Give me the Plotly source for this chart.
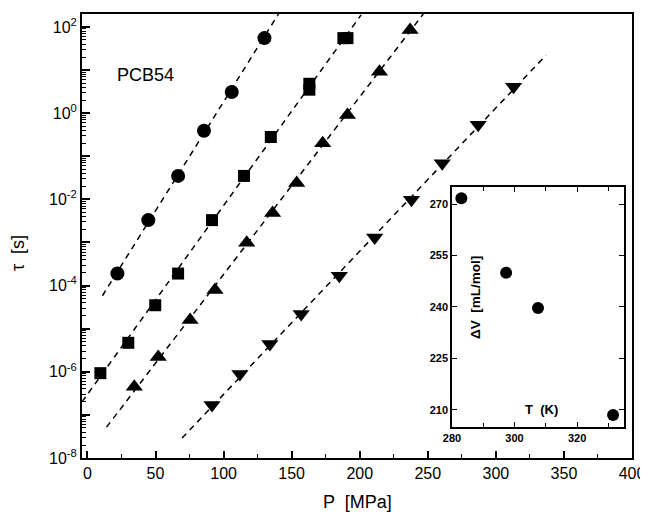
import plotly.graph_objects as go

# ---- data ----
P_circ = [22, 44.7, 66.6, 85.6, 106, 130]
tau_circ = [1.9e-4, 3.3e-3, 3.5e-2, 0.39, 3.1, 55]

P_sq = [9.5, 30, 49.8, 66.6, 91.5, 115, 134.7, 163, 163, 188, 191]
tau_sq = [9.3e-7, 4.7e-6, 3.5e-5, 1.9e-4, 3.3e-3, 3.5e-2, 0.28, 3.5, 4.8, 55, 55]

P_up = [34.4, 52, 75.4, 93.7, 117, 136, 153.7, 172.8, 191, 214.5, 237]
tau_up = [4.5e-7, 2.2e-6, 1.6e-5, 7.9e-5, 9.8e-4, 4.8e-3, 2.4e-2, 0.2, 0.91, 9.1, 85]

P_dn = [91.5, 112, 134, 157, 185, 211, 238, 260.6, 287, 313]
tau_dn = [1.7e-7, 8.9e-7, 4.4e-6, 2.2e-5, 1.7e-4, 1.3e-3, 9.8e-3, 6.9e-2, 0.54, 4.1]

# dashed fit lines (end points)
fit1_P = [11, 140.5]
fit1_tau = [5.8e-5, 204]
fit2_P = [-4, 201]
fit2_tau = [2.0e-7, 190]
fit3_P = [14, 246.7]
fit3_tau = [5.2e-8, 200]
fit4_P = [69.5, 336.8]
fit4_tau = [2.9e-8, 22]

# inset data
T_inset = [283, 297.3, 307.5, 331.5]
dV_inset = [271.7, 250, 239.7, 208.5]

# tick labels
y_tickvals = [10.0 ** e for e in range(-8, 3)]
y_ticktext = [("10<sup>%d</sup>" % e) if e % 2 == 0 else " " for e in range(-8, 3)]

FONT = "Arial, Liberation Sans, sans-serif"
fig = go.Figure()

dash = "6px,5px"
for xs, ys in [(fit1_P, fit1_tau), (fit2_P, fit2_tau), (fit3_P, fit3_tau), (fit4_P, fit4_tau)]:
    fig.add_trace(go.Scatter(x=xs, y=ys, mode="lines",
                             line=dict(color="black", width=1.5, dash=dash),
                             showlegend=False, hoverinfo="skip"))

fig.add_trace(go.Scatter(x=P_circ, y=tau_circ, mode="markers",
                         marker=dict(symbol="circle", size=14, color="black"), showlegend=False))
fig.add_trace(go.Scatter(x=P_sq, y=tau_sq, mode="markers",
                         marker=dict(symbol="square", size=12, color="black"), showlegend=False))
fig.add_trace(go.Scatter(x=P_up, y=tau_up, mode="markers",
                         marker=dict(symbol="triangle-up", size=15, color="black"), showlegend=False))
fig.add_trace(go.Scatter(x=P_dn, y=tau_dn, mode="markers",
                         marker=dict(symbol="triangle-down", size=15, color="black"), showlegend=False))

# inset
fig.add_trace(go.Scatter(x=T_inset, y=dV_inset, mode="markers", xaxis="x2", yaxis="y2",
                         marker=dict(symbol="circle", size=12, color="black"), showlegend=False))

# page offset of the figure (body margin)
OFF = 8
W, H = 648, 514
l, r, t, b = 82 - OFF, 24, 14 - OFF, 64
pw, ph = W - l - r, H - t - b

fig.update_layout(
    width=W, height=H,
    margin=dict(l=l, r=r, t=t, b=b, autoexpand=False),
    paper_bgcolor="white", plot_bgcolor="white",
    font=dict(family=FONT, color="black", size=16),
    xaxis=dict(range=[-4, 400], tickmode="linear", tick0=0, dtick=50,
               ticks="inside", ticklen=7, tickwidth=1.5, tickcolor="black",
               minor=dict(ticks="inside", dtick=25, tick0=0, ticklen=4, tickwidth=1.2, tickcolor="black"),
               showline=True, linewidth=2, linecolor="black", mirror=True,
               showgrid=False, zeroline=False,
               tickfont=dict(size=16, family=FONT)),
    xaxis3=dict(range=[-4, 400], overlaying="x", side="top", tickmode="linear", tick0=0, dtick=50,
                ticks="inside", ticklen=6, tickwidth=1.5, tickcolor="black",
                showticklabels=False, showgrid=False, zeroline=False, showline=False),
    yaxis=dict(type="log", range=[-8, 2.3], tickmode="array",
               tickvals=y_tickvals, ticktext=y_ticktext,
               ticks="inside", ticklen=8, tickwidth=1.5, tickcolor="black",
               minor=dict(ticks="inside", dtick="D1", ticklen=4, tickwidth=1, tickcolor="black"),
               showline=True, linewidth=2, linecolor="black", mirror=True,
               showgrid=False, zeroline=False,
               tickfont=dict(size=16, family=FONT)),
    xaxis2=dict(domain=[0.6727, 0.9855], anchor="y2", range=[280, 335],
                tickmode="linear", tick0=280, dtick=20,
                ticks="inside", ticklen=5, tickwidth=1, tickcolor="black",
                minor=dict(ticks="inside", dtick=10, tick0=280, ticklen=4, tickwidth=1, tickcolor="black"),
                showline=True, linewidth=1.5, linecolor="black", mirror="ticks",
                showgrid=False, zeroline=False,
                tickfont=dict(size=11, family=FONT, weight="bold")),
    yaxis2=dict(domain=[0.0698, 0.6104], anchor="x2", range=[205, 275],
                tickmode="linear", tick0=210, dtick=15,
                ticks="inside", ticklen=5, tickwidth=1, tickcolor="black",
                showline=True, linewidth=1.5, linecolor="black", mirror="ticks",
                showgrid=False, zeroline=False,
                tickfont=dict(size=11, family=FONT, weight="bold")),
)

# annotations positioned in page pixels, converted to paper coords
labels = [
    ("PCB54", 145, 75, 0, dict(size=18, family=FONT)),
    ("P  [MPa]", 357, 502, 0, dict(size=18, family=FONT)),
    ("τ  [s]", 18, 253, -90, dict(size=18, family=FONT)),
    ("<b>ΔV  [mL/mol]</b>", 475, 298, -90, dict(size=13.5, family=FONT)),
    ("<b>T  (K)</b>", 541, 409, 0, dict(size=13, family=FONT)),
]
anns = []
for text, px, py, ang, f in labels:
    anns.append(dict(text=text, xref="paper", yref="paper",
                     x=(px - OFF - l) / pw, y=(H - b - (py - OFF)) / ph,
                     xanchor="center", yanchor="middle", textangle=ang,
                     showarrow=False, font=f))
fig.update_layout(annotations=anns)

fig.write_html("out.html")
